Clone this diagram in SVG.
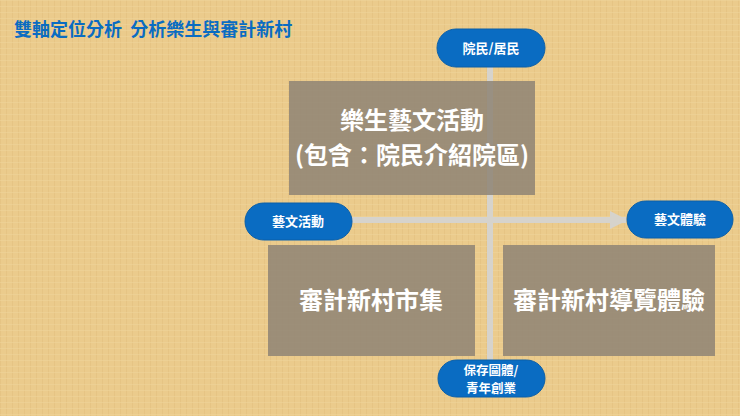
<svg xmlns="http://www.w3.org/2000/svg" width="740" height="416" viewBox="0 0 740 416">
<defs>
<style>
text{font-family:"Noto Sans CJK TC","Noto Sans CJK SC",sans-serif;font-weight:bold;text-anchor:middle}
.box{fill:#8E8474;fill-opacity:0.85}
.bt{fill:#fff;font-size:24px}
.pill{fill:#0A6CC2;stroke:#0B5FA8;stroke-width:1}
.pt{fill:#fff;font-size:13px}
.ln{stroke:#D6D3CC;stroke-width:6;fill:none}
</style>
<pattern id="wood" width="6" height="6" patternUnits="userSpaceOnUse">
<rect width="6" height="6" fill="#EBCB8C"/>
<rect width="1" height="6" fill="#E2BF7E" opacity="0.6"/>
<rect width="6" height="1" fill="#F0D59C" opacity="0.5"/>
</pattern>
<marker id="ah" viewBox="0 0 10 10" refX="9" refY="5" markerWidth="3" markerHeight="3" orient="auto" markerUnits="strokeWidth"><path d="M0,0L10,5L0,10z" fill="#D6D3CC"/></marker>
</defs>
<rect width="740" height="416" fill="url(#wood)"/>
<text x="14" y="36" style="text-anchor:start;font-size:18px;fill:#0A6CC2" xml:space="preserve">雙軸定位分析  分析樂生與審計新村</text>
<g id="connectors">
<line class="ln" x1="490" y1="62" x2="490" y2="362"/>
<line class="ln" x1="350" y1="220" x2="626" y2="220" marker-end="url(#ah)"/>
</g>
<g id="box1"><rect class="box" x="289" y="81" width="246" height="114"/>
<text class="bt" x="412" y="129">樂生藝文活動</text><text class="bt" x="412" y="164">(包含：院民介紹院區)</text></g>
<g id="box2"><rect class="box" x="268" y="245" width="207" height="111"/><text class="bt" x="371" y="309">審計新村市集</text></g>
<g id="box3"><rect class="box" x="503" y="245" width="212" height="111"/><text class="bt" x="609" y="309">審計新村導覽體驗</text></g>
<g id="p1"><rect class="pill" x="437" y="29" width="108" height="38" rx="19"/><text class="pt" x="491" y="53">院民/居民</text></g>
<g id="p2"><rect class="pill" x="245" y="203" width="107" height="37" rx="18.5"/><text class="pt" x="298" y="226">藝文活動</text></g>
<g id="p3"><rect class="pill" x="627" y="201" width="106" height="37" rx="18.5"/><text class="pt" x="680" y="224">藝文體驗</text></g>
<g id="p4"><rect class="pill" x="438" y="360" width="107" height="37" rx="18.5"/><text class="pt" x="491" y="375" style="font-size:12.5px">保存圖體/</text><text class="pt" x="491" y="393" style="font-size:12.5px">青年創業</text></g>
</svg>
